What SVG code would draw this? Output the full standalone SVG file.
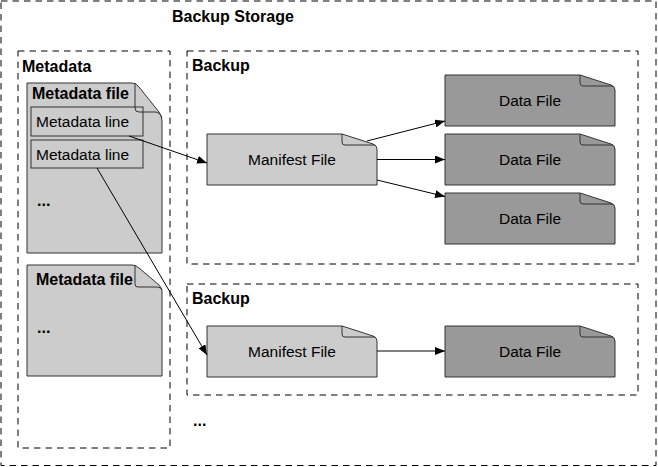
<svg xmlns="http://www.w3.org/2000/svg" xmlns:xlink="http://www.w3.org/1999/xlink" width="658" height="467" viewBox="0 0 658 467">
<style>
.bg{fill:#ffffff}
.dash{fill:none;stroke:#000;stroke-width:1;stroke-dasharray:6.5 5}
.light{fill:#cccccc;stroke:#333;stroke-width:1}
.dark{fill:#999999;stroke:#333;stroke-width:1}
.fold{fill:none;stroke:#333;stroke-width:1}
.line{fill:none;stroke:#333;stroke-width:1}
.b{font-family:"Liberation Sans",Arial,sans-serif;font-weight:bold;font-size:16px;fill:#000}
.t{font-family:"Liberation Sans",Arial,sans-serif;font-size:15.5px;fill:#000}
.c{text-anchor:middle}
.conn{fill:none;stroke:#000;stroke-width:1}
</style>
<defs>
<marker id="arr" viewBox="0 0 10 8" refX="10" refY="4" markerWidth="10" markerHeight="8" markerUnits="userSpaceOnUse" orient="auto">
<path d="M0,0 L10,4 L0,8 Z" fill="#000"/>
</marker>
<path id="fileOuter" d="M0,0 H135 L166,10 Q170,11.5 170,15 V51 H0 Z"/>
<path id="fileFold" d="M135,0 V8 Q135,11 138,11 H168"/>
</defs>
<rect class="bg" x="0" y="0" width="658" height="467"/>

<g id="backup-storage">
<rect class="dash" x="1" y="1" width="655" height="464.5"/>
<text class="b" x="172" y="22">Backup Storage</text>
</g>

<g id="metadata">
<rect class="dash" x="18" y="51" width="152" height="397"/>
<text class="b" x="22" y="72">Metadata</text>
</g>

<g id="metadata-file-1">
<path class="light" d="M27,83 H132 Q136,83 139,87 L159,112 Q162,116 162,121 V253 H27 Z"/>
<text class="b" x="32" y="99">Metadata file</text>
<path class="fold" d="M135,83 V108 Q135,112 139,112 H156 Q160,112 162,118"/>
<g id="metadata-line-1">
<rect class="line" x="31" y="107" width="112" height="29"/>
<text class="t" x="36" y="127">Metadata line</text>
</g>
<g id="metadata-line-2">
<rect class="line" x="31" y="140" width="112" height="28"/>
<text class="t" x="36" y="159.5">Metadata line</text>
</g>
<text class="b" x="37" y="206">...</text>
</g>

<g id="metadata-file-2">
<path class="light" d="M27,265 H132 Q136,265 139,268 L159,285 Q162,288 162,291 V376 H27 Z"/>
<path class="fold" d="M135,265 V284 Q135,287 138,287 H157 Q161,287 162,290"/>
<text class="b" x="36" y="285">Metadata file</text>
<text class="b" x="37" y="333">...</text>
</g>

<g id="backup-1">
<rect class="dash" x="187" y="51" width="451" height="213"/>
<text class="b" x="192" y="71">Backup</text>
</g>

<g id="manifest-1" transform="translate(207,134)">
<use xlink:href="#fileOuter" class="light"/>
<use xlink:href="#fileFold" class="fold"/>
<text class="t c" x="85" y="31">Manifest File</text>
</g>

<g id="data-1-1" transform="translate(445,75)">
<use xlink:href="#fileOuter" class="dark"/>
<use xlink:href="#fileFold" class="fold"/>
<text class="t c" x="85" y="31">Data File</text>
</g>
<g id="data-1-2" transform="translate(445,134)">
<use xlink:href="#fileOuter" class="dark"/>
<use xlink:href="#fileFold" class="fold"/>
<text class="t c" x="85" y="31">Data File</text>
</g>
<g id="data-1-3" transform="translate(445,193)">
<use xlink:href="#fileOuter" class="dark"/>
<use xlink:href="#fileFold" class="fold"/>
<text class="t c" x="85" y="31">Data File</text>
</g>

<g id="backup-2">
<rect class="dash" x="187" y="284" width="451" height="111"/>
<text class="b" x="192" y="304">Backup</text>
</g>

<g id="manifest-2" transform="translate(207,326)">
<use xlink:href="#fileOuter" class="light"/>
<use xlink:href="#fileFold" class="fold"/>
<text class="t c" x="85" y="31">Manifest File</text>
</g>
<g id="data-2-1" transform="translate(445,326)">
<use xlink:href="#fileOuter" class="dark"/>
<use xlink:href="#fileFold" class="fold"/>
<text class="t c" x="85" y="31">Data File</text>
</g>

<g id="more-backups">
<text class="b" x="193" y="426">...</text>
</g>

<g id="connectors">
<line class="conn" x1="129" y1="136" x2="207" y2="163" marker-end="url(#arr)"/>
<line class="conn" x1="97" y1="168" x2="207" y2="355" marker-end="url(#arr)"/>
<line class="conn" x1="367" y1="141" x2="445" y2="121" marker-end="url(#arr)"/>
<line class="conn" x1="377" y1="159.5" x2="445" y2="159.5" marker-end="url(#arr)"/>
<line class="conn" x1="377" y1="180" x2="445" y2="196.5" marker-end="url(#arr)"/>
<line class="conn" x1="377" y1="351" x2="445" y2="351" marker-end="url(#arr)"/>
</g>
</svg>
